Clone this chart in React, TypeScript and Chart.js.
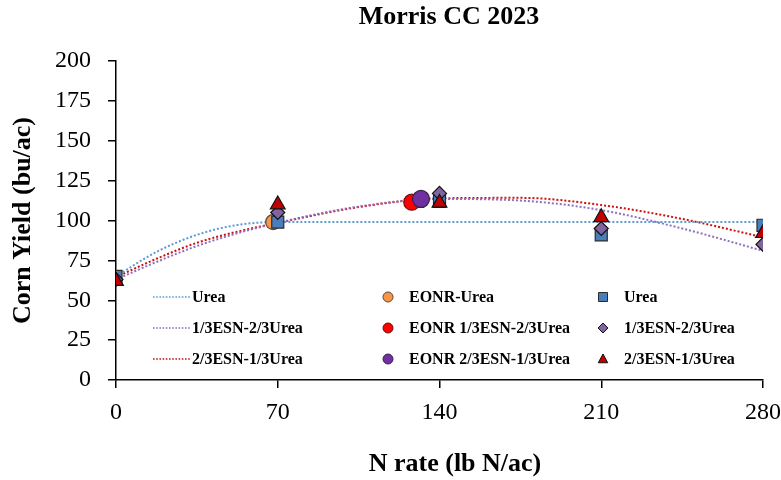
import React, { useEffect, useRef } from "react";
import { Chart, registerables } from "chart.js";

Chart.register(...registerables);

// ---- data ----
const chartTitle = "Morris CC 2023";
const xTitle = "N rate (lb N/ac)";
const yTitle = "Corn Yield (bu/ac)";
const xTicks = [0, 70, 140, 210, 280];
const yTicks = [0, 25, 50, 75, 100, 125, 150, 175, 200];

const nRates = [0, 70, 140, 210, 280];
const ureaYield = [65, 99, 112, 91, 97];
const esn13Yield = [63, 105, 117, 95, 85];
const esn23Yield = [62, 110, 111, 102, 92];

const eonrUreaRate = [68];
const eonrUreaYield = [99];
const eonr13Rate = [128];
const eonr13Yield = [111.5];
const eonr23Rate = [132];
const eonr23Yield = [113.5];

const trendRates = [0, 17.5, 35, 52.5, 70, 105, 140, 175, 210, 245, 280];
const ureaTrend = [65, 80.3, 91, 97.2, 99, 99, 99, 99, 99, 99, 99];
const esn13Trend = [63, 74, 84, 92, 98.6, 108.7, 113.5, 112.5, 106.5, 95, 81];
const esn23Trend = [64.5, 76, 86, 93, 98.5, 108.4, 113.9, 114.2, 109.7, 101, 89.5];

const FONT = "'Liberation Serif', 'Times New Roman', serif";

const toPts = (xs: number[], ys: number[]) => xs.map((x, i) => ({ x, y: ys[i] }));

type LegendKind = "line" | "circle" | "rect" | "rectRot" | "triangle";

function drawShape(ctx: CanvasRenderingContext2D, kind: LegendKind, x: number, y: number, r: number) {
  ctx.beginPath();
  if (kind === "circle") {
    ctx.arc(x, y, r, 0, Math.PI * 2);
  } else if (kind === "rect") {
    ctx.rect(x - r, y - r, 2 * r, 2 * r);
  } else if (kind === "rectRot") {
    ctx.moveTo(x, y - r);
    ctx.lineTo(x + r, y);
    ctx.lineTo(x, y + r);
    ctx.lineTo(x - r, y);
    ctx.closePath();
  } else if (kind === "triangle") {
    ctx.moveTo(x, y - r);
    ctx.lineTo(x + r * 0.95, y + r * 0.75);
    ctx.lineTo(x - r * 0.95, y + r * 0.75);
    ctx.closePath();
  }
  ctx.fill();
  ctx.stroke();
}

const gridLegendPlugin = {
  id: "gridLegend",
  afterDraw(chart: any) {
    const ctx: CanvasRenderingContext2D = chart.ctx;
    const ds = chart.data.datasets as any[];
    const colX = [153, 388, 603];
    const rowY = [297, 328, 359];
    ctx.save();
    ctx.font = `bold 16px ${FONT}`;
    ctx.textBaseline = "middle";
    ctx.textAlign = "left";
    ds.forEach((d, i) => {
      const col = Math.floor(i / 3);
      const row = i % 3;
      const x = colX[col];
      const y = rowY[row];
      const kind: LegendKind = d.legendKind;
      let tx: number;
      if (kind === "line") {
        ctx.strokeStyle = d.borderColor;
        ctx.lineWidth = 1.6;
        ctx.setLineDash([1.6, 1.6]);
        ctx.beginPath();
        ctx.moveTo(x, y);
        ctx.lineTo(x + 37, y);
        ctx.stroke();
        ctx.setLineDash([]);
        tx = x + 39;
      } else {
        ctx.fillStyle = d.backgroundColor;
        ctx.strokeStyle = d.borderColor;
        ctx.lineWidth = 1;
        const r = kind === "rect" ? 4.5 : 5;
        drawShape(ctx, kind, x, y, r);
        tx = x + 21;
      }
      ctx.fillStyle = "#000";
      ctx.fillText(d.label, tx, y + 1);
    });
    // chart title
    ctx.textAlign = "center";
    ctx.textBaseline = "middle";
    ctx.font = `bold 26px ${FONT}`;
    ctx.fillText(chartTitle, 449, 17);
    // x-axis title
    ctx.fillText(xTitle, 455, 464);
    ctx.restore();
  },
};

export default function App() {
  const ref = useRef<HTMLCanvasElement | null>(null);

  useEffect(() => {
    document.body.style.margin = "0";
    if (!ref.current) return;
    const lineDs = (label: string, ys: number[], color: string) => ({
      type: "scatter" as const,
      label,
      data: toPts(trendRates, ys),
      showLine: true,
      borderColor: color,
      backgroundColor: color,
      borderWidth: 2,
      borderDash: [2, 2],
      pointRadius: 0,
      cubicInterpolationMode: "monotone",
      order: 10,
      legendKind: "line",
    });
    const ptDs = (
      label: string,
      xs: number[],
      ys: number[],
      style: string,
      radius: number,
      fill: string,
      border: string,
      order: number
    ) => ({
      type: "scatter" as const,
      label,
      data: toPts(xs, ys),
      showLine: false,
      pointStyle: style,
      pointRadius: radius,
      pointHoverRadius: radius,
      backgroundColor: fill,
      borderColor: border,
      pointBorderWidth: 1.2,
      order,
      legendKind: style,
    });

    const chart = new Chart(ref.current, {
      type: "scatter",
      data: {
        datasets: [
          lineDs("Urea", ureaTrend, "#5B9BD5"),
          lineDs("1/3ESN-2/3Urea", esn13Trend, "#8E6FC0"),
          lineDs("2/3ESN-1/3Urea", esn23Trend, "#D01010"),
          ptDs("EONR-Urea", eonrUreaRate, eonrUreaYield, "circle", 7.5, "#F79646", "#5a4a3a", 6),
          ptDs("EONR 1/3ESN-2/3Urea", eonr13Rate, eonr13Yield, "circle", 8, "#FF0000", "#6a1010", 5),
          ptDs("EONR 2/3ESN-1/3Urea", eonr23Rate, eonr23Yield, "circle", 8.5, "#7030A0", "#3a2050", 4),
          ptDs("Urea", nRates, ureaYield, "rect", 8.5, "#4A7EBB", "#2b2b2b", 3),
          ptDs("1/3ESN-2/3Urea", nRates, esn13Yield, "rectRot", 7, "#8064A2", "#111", 2),
          ptDs("2/3ESN-1/3Urea", nRates, esn23Yield, "triangle", 8.5, "#C00000", "#111", 1),
        ] as any,
      },
      options: {
        animation: false,
        responsive: false,
        maintainAspectRatio: false,
        layout: { padding: { top: 61, right: 18, left: 0, bottom: 0 } },
        plugins: {
          legend: { display: false },
          tooltip: { enabled: false },
          title: { display: false },
        },
        scales: {
          x: {
            type: "linear",
            min: 0,
            max: 280,
            afterBuildTicks: (scale: any) => {
              scale.ticks = xTicks.map((v) => ({ value: v }));
            },
            afterFit: (scale: any) => {
              scale.height = 100;
              scale.paddingLeft = 0;
              scale.paddingRight = 0;
            },
            ticks: {
              color: "#000",
              font: { family: FONT, size: 24 },
              padding: 10,
            },
            grid: {
              drawOnChartArea: false,
              drawTicks: true,
              tickLength: 8,
              color: "#000",
              lineWidth: 1.5,
            },
            border: { display: true, color: "#000", width: 1.5 },
            title: { display: false },
          },
          y: {
            type: "linear",
            min: 0,
            max: 200,
            afterBuildTicks: (scale: any) => {
              scale.ticks = yTicks.map((v) => ({ value: v }));
            },
            afterFit: (scale: any) => {
              scale.width = 116;
              scale.paddingTop = 0;
              scale.paddingBottom = 0;
            },
            ticks: {
              color: "#000",
              font: { family: FONT, size: 24 },
              padding: 17,
            },
            grid: {
              drawOnChartArea: false,
              drawTicks: true,
              tickLength: 8,
              color: "#000",
              lineWidth: 1.5,
            },
            border: { display: true, color: "#000", width: 1.5 },
            title: {
              display: true,
              text: yTitle,
              color: "#000",
              font: { family: FONT, size: 26, weight: "bold" },
              padding: { top: 8, bottom: 0 },
            },
          },
        },
      },
      plugins: [gridLegendPlugin],
    });
    return () => chart.destroy();
  }, []);

  return (
    <div style={{ width: 781, height: 480, background: "#fff" }}>
      <canvas ref={ref} width={781} height={480} style={{ display: "block" }} />
    </div>
  );
}
